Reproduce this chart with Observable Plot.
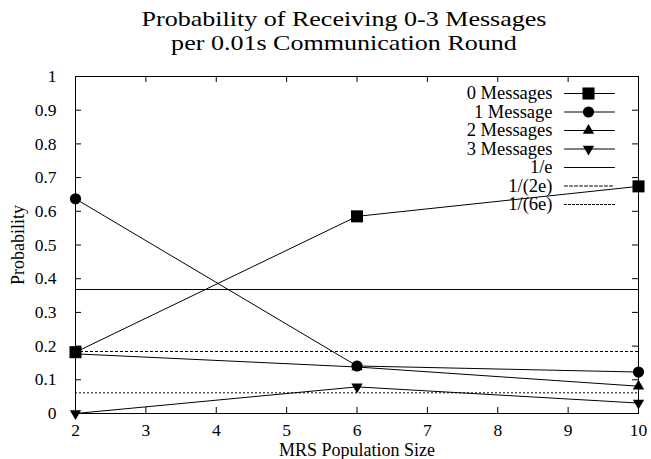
<!DOCTYPE html>
<html><head><meta charset="utf-8">
<script src="https://cdn.jsdelivr.net/npm/d3@7"></script>
<script src="https://cdn.jsdelivr.net/npm/@observablehq/plot@0.6"></script>
<style>
body{margin:0;background:#fff;font-family:"Liberation Serif",serif;}
#titlebox{width:651px;height:53px;overflow:visible;}
#title{width:651px;box-sizing:border-box;padding:8px 0 0 37px;text-align:center;font-size:21px;line-height:23.5px;color:#000;white-space:nowrap;transform:scaleX(1.24);transform-origin:344px 0;}
#chart svg{display:block;}
#chart svg, #chart svg text{font-family:"Liberation Serif",serif !important;}
</style></head><body>
<div id="titlebox"><div id="title">Probability of Receiving 0-3 Messages<br>per 0.01s Communication Round</div></div>
<div id="chart"></div>
<script>
const populationSizes = [2, 6, 10];
const seriesNames = ["0 Messages", "1 Message", "2 Messages", "3 Messages"];
const p0 = [0.182, 0.585, 0.674];
const p1 = [0.637, 0.141, 0.123];
const p2 = [0.177, 0.138, 0.081];
const p3 = [0.000, 0.079, 0.031];
const refNames = ["1/e", "1/(2e)", "1/(6e)"];
const refValues = [1 / Math.E, 1 / (2 * Math.E), 1 / (6 * Math.E)];
const xTicks = [2, 3, 4, 5, 6, 7, 8, 9, 10];
const yTicks = [0, 0.1, 0.2, 0.3, 0.4, 0.5, 0.6, 0.7, 0.8, 0.9, 1];

const seriesValues = [p0, p1, p2, p3];
const rows = seriesNames.flatMap((name, s) =>
  populationSizes.map((x, i) => ({series: name, x, y: seriesValues[s][i]})));

const sqrt3 = Math.sqrt(3);
const triangleDown = {
  draw(context, size) {
    const y = -Math.sqrt(size / (sqrt3 * 3));
    context.moveTo(0, -y * 2);
    context.lineTo(-sqrt3 * y, y);
    context.lineTo(sqrt3 * y, y);
    context.closePath();
  }
};
const symbols = ["square", "circle", "triangle", triangleDown];
const radii = [6.8, 5.6, 4.2, 4.2];
const refDash = [null, "3,2", "2,2"];
const segment = {draw(context, l) { context.moveTo(0, 0); context.lineTo(0, -l); }};

const width = 651, height = 406;
const mL = 75, mR = 13, mT = 23, mB = 46;
const W = width - mL - mR, H = height - mT - mB;
const tick = 6;
const rowStep = 18.5, row0 = 17;
const tickFont = {fontFamily: "Liberation Serif", fontSize: 17.5};
const labelFont = {fontFamily: "Liberation Serif", fontSize: 18};
const legendFont = {fontFamily: "Liberation Serif", fontSize: 18.5};

const marks = [];
refValues.forEach((v, i) => {
  marks.push(Plot.ruleY([v], {y: d => d, stroke: "black", strokeWidth: 1, strokeDasharray: refDash[i]}));
});
seriesNames.forEach((name, s) => {
  const d = rows.filter(r => r.series === name);
  marks.push(Plot.line(d, {x: "x", y: "y", stroke: "black", strokeWidth: 1}));
  marks.push(Plot.dot(d, {x: "x", y: "y", symbol: symbols[s], r: radii[s], fill: "black", stroke: null}));
});
marks.push(Plot.frame({stroke: "black", strokeWidth: 1}));
marks.push(Plot.tickY(yTicks, {y: d => d, insetRight: W - tick, stroke: "black"}));
marks.push(Plot.tickY(yTicks, {y: d => d, insetLeft: W - tick, stroke: "black"}));
marks.push(Plot.tickX(xTicks, {x: d => d, insetTop: H - tick, stroke: "black"}));
marks.push(Plot.tickX(xTicks, {x: d => d, insetBottom: H - tick, stroke: "black"}));
marks.push(Plot.axisX({ticks: xTicks, tickSize: 0, tickPadding: 10, tickFormat: d => `${d}`, ...tickFont, label: null}));
marks.push(Plot.axisX({ticks: [], tickSize: 0, ...labelFont,
  label: "MRS Population Size", labelAnchor: "center", labelOffset: 42, labelArrow: "none"}));
marks.push(Plot.axisY({ticks: yTicks, tickSize: 0, tickPadding: 19, tickFormat: d => `${d}`, ...tickFont, label: null}));
marks.push(Plot.axisY({ticks: [], tickSize: 0, ...labelFont,
  label: "Probability", labelAnchor: "center", labelOffset: 64, labelArrow: "none"}));
const legendNames = seriesNames.concat(refNames);
legendNames.forEach((name, i) => {
  const dy = row0 + i * rowStep;
  marks.push(Plot.text([name], {frameAnchor: "top-right", dx: -86, dy, text: d => d, textAnchor: "end", lineAnchor: "middle", fill: "black", ...legendFont}));
  marks.push(Plot.vector([name], {frameAnchor: "top-right", dx: -74, dy, length: 50, rotate: 90, anchor: "start",
    shape: segment, stroke: "black", strokeWidth: 1, strokeDasharray: i < 4 ? null : refDash[i - 4]}));
  if (i < 4) marks.push(Plot.dot([name], {frameAnchor: "top-right", dx: -50, dy, symbol: symbols[i], r: radii[i], fill: "black", stroke: null}));
});

const chart = Plot.plot({
  width, height,
  marginLeft: mL, marginRight: mR, marginTop: mT, marginBottom: mB,
  x: {domain: [2, 10]},
  y: {domain: [0, 1]},
  style: {fontFamily: "Liberation Serif", fontSize: "18px", background: "white", color: "black", overflow: "visible"},
  marks
});
document.getElementById("chart").appendChild(chart);
</script>
</body></html>
